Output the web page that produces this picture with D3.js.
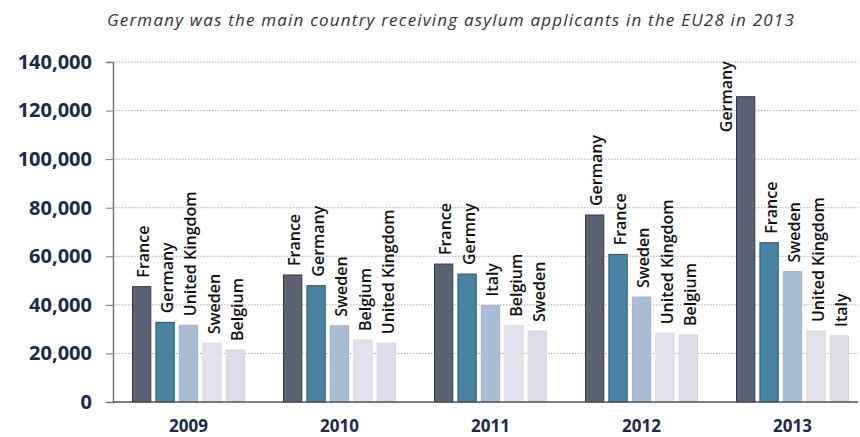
<!DOCTYPE html>
<html>
<head>
<meta charset="utf-8">
<script src="https://cdn.jsdelivr.net/npm/d3@7"></script>
<style>
  body { margin: 0; background: #fff; }
  svg { display: block; }
</style>
</head>
<body>
<div id="chart"></div>
<script>
// data
var years = ["2009", "2010", "2011", "2012", "2013"];
var countries2009 = ["France", "Germany", "United Kingdom", "Sweden", "Belgium"];
var values2009 = [47500, 32800, 31600, 24200, 21400];
var countries2010 = ["France", "Germany", "Sweden", "Belgium", "United Kingdom"];
var values2010 = [52300, 47900, 31400, 25500, 24200];
var countries2011 = ["France", "Germny", "Italy", "Belgium", "Sweden"];
var values2011 = [56800, 52700, 39700, 31400, 29200];
var countries2012 = ["Germany", "France", "Sweden", "United Kingdom", "Belgium"];
var values2012 = [77000, 60800, 43200, 28300, 27600];
var countries2013 = ["Germany", "France", "Sweden", "United Kingdom", "Italy"];
var values2013 = [125700, 65600, 53700, 29200, 27200];
var yTicks = [0, 20000, 40000, 60000, 80000, 100000, 120000, 140000];

var countryLists = [countries2009, countries2010, countries2011, countries2012, countries2013];
var valueLists = [values2009, values2010, values2011, values2012, values2013];

var data = [];
years.forEach(function(yr, i) {
  countryLists[i].forEach(function(c, j) {
    data.push({year: yr, rank: j, country: c, value: valueLists[i][j]});
  });
});

var fills = ["#5b6373", "#4a82a2", "#a9bed2", "#e1e2eb", "#dcdde8"];
var strokes = ["#2f3644", "#1f5a72", "#9fb3c6", "#d8d9e3", "#d3d4e0"];

var W = 860, H = 437;
var margin = {top: 62, right: 0, bottom: 35, left: 113};
var height = H - margin.top - margin.bottom;

var svg = d3.select("#chart")
  .append("svg")
    .attr("width", W)
    .attr("height", H);

// title
svg.append("text")
  .attr("x", 451)
  .attr("y", 26)
  .attr("text-anchor", "middle")
  .style("font-family", "'Open Sans', sans-serif")
  .style("font-style", "italic")
  .style("font-size", "17px")
  .style("letter-spacing", "1.2px")
  .attr("fill", "#333")
  .text("Germany was the main country receiving asylum applicants in the EU28 in 2013");

var g = svg.append("g")
  .attr("transform", "translate(" + margin.left + "," + margin.top + ")");

var y = d3.scaleLinear()
  .domain([0, 140000])
  .range([height, 0]);

var x0 = d3.scaleBand()
  .domain(years)
  .range([0, 755]);

var x1 = d3.scaleBand()
  .domain([0, 1, 2, 3, 4])
  .range([19.5, 131.5])
  .paddingInner(0.22);

// gridlines
g.append("g")
  .selectAll("line")
  .data(yTicks.filter(function(d) { return d > 0; }))
  .enter()
  .append("line")
    .attr("x1", 0)
    .attr("x2", W - margin.left - 2)
    .attr("y1", function(d) { return y(d); })
    .attr("y2", function(d) { return y(d); })
    .attr("stroke", "#9a9a9a")
    .attr("stroke-width", 0.8)
    .attr("stroke-dasharray", "1.5,1.5");

// y axis
var yAxis = g.append("g")
  .call(d3.axisLeft(y).tickValues(yTicks).tickSize(7).tickPadding(14)
    .tickFormat(d3.format(",")));
yAxis.select(".domain").attr("stroke", "#777").attr("stroke-width", 1.5);
yAxis.selectAll(".tick line").attr("stroke", "#777");
yAxis.selectAll("text")
  .style("font-family", "'Open Sans', sans-serif")
  .style("font-weight", "bold")
  .style("font-size", "20px")
  .attr("fill", "#1c2a4a");

// bars
g.selectAll("rect.bar")
  .data(data)
  .enter()
  .append("rect")
    .attr("class", "bar")
    .attr("x", function(d) { return x0(d.year) + x1(d.rank); })
    .attr("y", function(d) { return y(d.value); })
    .attr("width", x1.bandwidth())
    .attr("height", function(d) { return height - y(d.value); })
    .attr("fill", function(d) { return fills[d.rank]; })
    .attr("stroke", function(d) { return strokes[d.rank]; })
    .attr("stroke-width", 1);

// labels above bars (the tallest one sits beside its bar, no room above)
function tooTall(d) { return y(d.value) < 60; }
g.selectAll("text.lbl")
  .data(data)
  .enter()
  .append("text")
    .attr("class", "lbl")
    .attr("transform", function(d) {
      var cx = x0(d.year) + x1(d.rank) + x1.bandwidth() / 2 + 2;
      if (tooTall(d)) {
        return "translate(" + (x0(d.year) + x1(d.rank) - 10) + "," + y(d.value) + ")rotate(-90)";
      }
      return "translate(" + cx + "," + (y(d.value) - 9) + ")rotate(-90)";
    })
    .attr("text-anchor", function(d) { return tooTall(d) ? "middle" : "start"; })
    .attr("dy", "0.35em")
    .style("font-family", "'Open Sans', sans-serif")
    .style("font-weight", "600")
    .style("font-size", "16px")
    .attr("fill", "#111")
    .text(function(d) { return d.country; });

// x axis baseline
g.append("line")
  .attr("x1", 0)
  .attr("x2", W - margin.left - 2)
  .attr("y1", height)
  .attr("y2", height)
  .attr("stroke", "#555")
  .attr("stroke-width", 1.5);

// year labels
g.selectAll("text.yr")
  .data(years)
  .enter()
  .append("text")
    .attr("class", "yr")
    .attr("x", function(d) { return x0(d) + 75.5; })
    .attr("y", height + 30)
    .attr("text-anchor", "middle")
    .style("font-family", "'Open Sans', sans-serif")
    .style("font-weight", "bold")
    .style("font-size", "17px")
    .attr("fill", "#1c2a4a")
    .text(function(d) { return d; });
</script>
</body>
</html>
